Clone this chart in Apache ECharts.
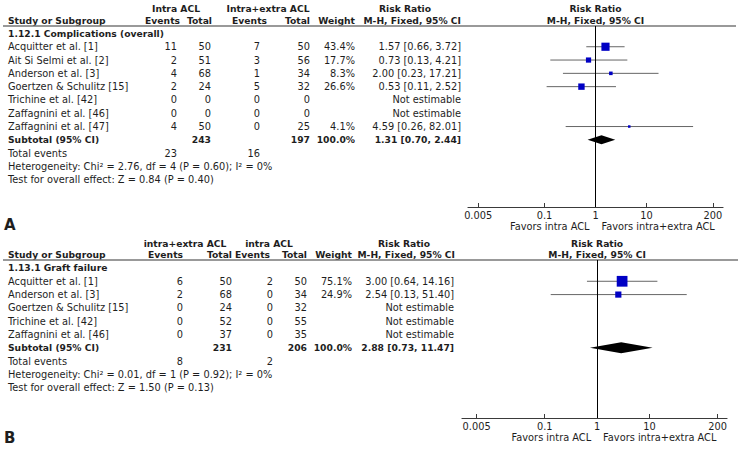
<!DOCTYPE html>
<html><head><meta charset="utf-8">
<script src="https://cdn.jsdelivr.net/npm/echarts@6/dist/echarts.min.js"></script>
<style>html,body{margin:0;padding:0;background:#fff}#c{width:738px;height:449px}</style>
</head><body><div id="c"></div>
<script>
// ---------- Panel A data: 1.12.1 Complications (overall) ----------
const sectionA = "1.12.1 Complications (overall)";
const groupsA = ["Intra ACL", "Intra+extra ACL"];
const studiesA = ["Acquitter et al. [1]", "Ait Si Selmi et al. [2]", "Anderson et al. [3]", "Goertzen & Schulitz [15]", "Trichine et al. [42]", "Zaffagnini et al. [46]", "Zaffagnini et al. [47]"];
const events1A = [11, 2, 4, 2, 0, 0, 4];
const total1A = [50, 51, 68, 24, 0, 0, 50];
const events2A = [7, 3, 1, 5, 0, 0, 0];
const total2A = [50, 56, 34, 32, 0, 0, 25];
const weightA = [43.4, 17.7, 8.3, 26.6, null, null, 4.1];
const rrA = [1.57, 0.73, 2.00, 0.53, null, null, 4.59];
const lowA = [0.66, 0.13, 0.23, 0.11, null, null, 0.26];
const highA = [3.72, 4.21, 17.21, 2.52, null, null, 82.01];
const subtotalA = [243, 197, 100.0, 1.31, 0.70, 2.44]; // total1, total2, weight, rr, low, high
const totalEventsA = [23, 16];
const hetA = "Heterogeneity: Chi\u00B2 = 2.76, df = 4 (P = 0.60); I\u00B2 = 0%";
const testA = "Test for overall effect: Z = 0.84 (P = 0.40)";

// ---------- Panel B data: 1.13.1 Graft failure ----------
const sectionB = "1.13.1 Graft failure";
const groupsB = ["intra+extra ACL", "intra ACL"];
const studiesB = ["Acquitter et al. [1]", "Anderson et al. [3]", "Goertzen & Schulitz [15]", "Trichine et al. [42]", "Zaffagnini et al. [46]"];
const events1B = [6, 2, 0, 0, 0];
const total1B = [50, 68, 24, 52, 37];
const events2B = [2, 0, 0, 0, 0];
const total2B = [50, 34, 32, 55, 35];
const weightB = [75.1, 24.9, null, null, null];
const rrB = [3.00, 2.54, null, null, null];
const lowB = [0.64, 0.13, null, null, null];
const highB = [14.16, 51.40, null, null, null];
const subtotalB = [231, 206, 100.0, 2.88, 0.73, 11.47];
const totalEventsB = [8, 2];
const hetB = "Heterogeneity: Chi\u00B2 = 0.01, df = 1 (P = 0.92); I\u00B2 = 0%";
const testB = "Test for overall effect: Z = 1.50 (P = 0.13)";

// ---------- shared axis ----------
const tickValues = [0.005, 0.1, 1, 10, 200];
const tickLabels = ["0.005", "0.1", "1", "10", "200"];
const favorsLeft = "Favors intra ACL";
const favorsRight = "Favors intra+extra ACL";
const letters = ["A", "B"];

// ---------- layout (positions/styles only) ----------
const FONT = '"DejaVu Sans", Verdana, sans-serif';
const TXT = '#1e1e1e';
const FS = 9.8, FB = 9.2;
const layouts = [
  { gridLeft: 468, gridRight: 15, top: 26, height: 181, yMin: -0.56, yMax: 13.05, xMin: -2.5, xMax: 2.5,
    textLeft: 8, col: [177, 211, 260, 310, 355, 461], hcol: [180, 212, 267, 310, 355, 461], grp: [176, 268, 405],
    h1: -1.85, h2: -0.98, ruleX2: 736, letterY: 225, dH: 4.5 },
  { gridLeft: 462, gridRight: 11, top: 260, height: 158, yMin: -0.6, yMax: 11.28, xMin: -2.58, xMax: 2.48,
    textLeft: 8, col: [183, 232, 273, 307, 352, 454], hcol: [183, 232, 270, 307, 352, 455], grp: [185, 269, 404],
    h1: -1.85, h2: -0.98, ruleX2: 738, letterY: 438, dH: 5.5 }
];
const panels = [
  { section: sectionA, groups: groupsA, studies: studiesA, e1: events1A, t1: total1A, e2: events2A, t2: total2A, w: weightA, rr: rrA, lo: lowA, hi: highA, sub: subtotalA, tot: totalEventsA, het: hetA, test: testA },
  { section: sectionB, groups: groupsB, studies: studiesB, e1: events1B, t1: total1B, e2: events2B, t2: total2B, w: weightB, rr: rrB, lo: lowB, hi: highB, sub: subtotalB, tot: totalEventsB, het: hetB, test: testB }
];

const L = Math.log10;
const tickLogs = tickValues.map(L);
function tickLabel(v) {
  let best = 0;
  tickLogs.forEach((t, i) => { if (Math.abs(t - v) < Math.abs(tickLogs[best] - v)) best = i; });
  return tickLabels[best];
}
const fmtCI = (r, l, h) => r.toFixed(2) + ' [' + l.toFixed(2) + ', ' + h.toFixed(2) + ']';

const chart = echarts.init(document.getElementById('c'), null, { renderer: 'svg' });

const grids = [], xAxes = [], yAxes = [], series = [];
panels.forEach((p, i) => {
  const lay = layouts[i];
  grids.push({ left: lay.gridLeft, right: lay.gridRight, top: lay.top, height: lay.height, containLabel: false });
  xAxes.push({
    gridIndex: i, type: 'value', min: lay.xMin, max: lay.xMax,
    axisLine: { show: true, onZero: false, lineStyle: { color: '#3a3a3a', width: 1.2 } },
    axisTick: { show: true, inside: true, length: 4, customValues: tickLogs, lineStyle: { color: '#3a3a3a', width: 1 } },
    axisLabel: { show: true, customValues: tickLogs, formatter: tickLabel, fontSize: FS, fontFamily: FONT, color: TXT, margin: 3 },
    splitLine: { show: false }
  });
  yAxes.push({ gridIndex: i, type: 'value', inverse: true, min: lay.yMin, max: lay.yMax, show: false });

  const whisk = [], sq = [];
  p.studies.forEach((s, k) => {
    if (p.rr[k] == null) return;
    whisk.push([L(p.lo[k]), L(p.hi[k]), k + 1]);
    sq.push([L(p.rr[k]), k + 1, p.w[k]]);
  });
  series.push({
    type: 'custom', xAxisIndex: i, yAxisIndex: i, clip: false, silent: true,
    encode: { x: [0, 1], y: 2 },
    renderItem: (params, api) => {
      const a = api.coord([api.value(0), api.value(2)]);
      const b = api.coord([api.value(1), api.value(2)]);
      return { type: 'line', shape: { x1: a[0], y1: a[1], x2: b[0], y2: b[1] }, style: { stroke: '#666', lineWidth: 1 } };
    },
    data: whisk,
    markLine: { silent: true, symbol: ['none', 'none'], label: { show: false }, animation: false,
      lineStyle: { color: '#000', width: 1, type: 'solid' }, data: [{ xAxis: 0 }] }
  });
  series.push({
    type: 'scatter', xAxisIndex: i, yAxisIndex: i, symbol: 'rect', silent: true,
    symbolSize: v => Math.max(2.5, Math.sqrt(v[2]) * 1.24),
    itemStyle: { color: '#0000c4', opacity: 1 },
    data: sq
  });
  const n = p.studies.length;
  const sub = p.sub;
  series.push({
    type: 'custom', xAxisIndex: i, yAxisIndex: i, clip: false, silent: true,
    encode: { x: [0, 1, 2], y: 3 },
    renderItem: (params, api) => {
      const y = api.value(3);
      const l = api.coord([api.value(0), y]);
      const c = api.coord([api.value(1), y]);
      const r = api.coord([api.value(2), y]);
      const h = lay.dH;
      return { type: 'polygon', shape: { points: [[l[0], l[1]], [c[0], c[1] - h], [r[0], r[1]], [c[0], c[1] + h]] }, style: { fill: '#000' } };
    },
    data: [[L(sub[4]), L(sub[3]), L(sub[5]), n + 1]]
  });
});

chart.setOption({
  animation: false,
  backgroundColor: '#fff',
  grid: grids, xAxis: xAxes, yAxis: yAxes, series: series
});

// ---------- table text, positioned through the axes' own mapping ----------
const gfx = [];
function txt(x, y, text, align, bold, size) {
  gfx.push({ type: 'text', x: x, y: y, silent: true,
    style: { text: String(text), align: align || 'left', verticalAlign: 'middle',
      fontFamily: FONT, fontSize: size || FS, fontWeight: bold ? 'bold' : 'normal', fill: TXT } });
}
panels.forEach((p, i) => {
  const lay = layouts[i];
  const Y = r => chart.convertToPixel({ yAxisIndex: i }, r);
  const zeroX = chart.convertToPixel({ xAxisIndex: i }, 0);
  const x0 = lay.textLeft, c = lay.col, hc = lay.hcol;
  // headers
  const y1 = Y(lay.h1), y2 = Y(lay.h2);
  txt(lay.grp[0], y1, p.groups[0], 'center', true, FB);
  txt(lay.grp[1], y1, p.groups[1], 'center', true, FB);
  txt(lay.grp[2], y1, 'Risk Ratio', 'center', true, FB);
  txt(zeroX, y1, 'Risk Ratio', 'center', true, FB);
  txt(x0, y2, 'Study or Subgroup', 'left', true, FB);
  txt(hc[0], y2, 'Events', 'right', true, FB);
  txt(hc[1], y2, 'Total', 'right', true, FB);
  txt(hc[2], y2, 'Events', 'right', true, FB);
  txt(hc[3], y2, 'Total', 'right', true, FB);
  txt(hc[4], y2, 'Weight', 'right', true, FB);
  txt(hc[5], y2, 'M-H, Fixed, 95% CI', 'right', true, FB);
  txt(zeroX, y2, 'M-H, Fixed, 95% CI', 'center', true, FB);
  gfx.push({ type: 'line', silent: true, shape: { x1: 3, y1: lay.top, x2: lay.ruleX2, y2: lay.top }, style: { stroke: '#777', lineWidth: 1.5 } });
  // section
  txt(x0, Y(0), p.section, 'left', true, FB);
  // studies
  p.studies.forEach((s, k) => {
    const y = Y(k + 1);
    txt(x0, y, s, 'left');
    txt(c[0], y, p.e1[k], 'right');
    txt(c[1], y, p.t1[k], 'right');
    txt(c[2], y, p.e2[k], 'right');
    txt(c[3], y, p.t2[k], 'right');
    if (p.rr[k] != null) {
      txt(c[4], y, p.w[k].toFixed(1) + '%', 'right');
      txt(c[5], y, fmtCI(p.rr[k], p.lo[k], p.hi[k]), 'right');
    } else {
      txt(c[5], y, 'Not estimable', 'right');
    }
  });
  const n = p.studies.length;
  const ys = Y(n + 1);
  txt(x0, ys, 'Subtotal (95% CI)', 'left', true, FB);
  txt(c[1], ys, p.sub[0], 'right', true, FB);
  txt(c[3], ys, p.sub[1], 'right', true, FB);
  txt(c[4], ys, p.sub[2].toFixed(1) + '%', 'right', true, FB);
  txt(c[5], ys, fmtCI(p.sub[3], p.sub[4], p.sub[5]), 'right', true, FB);
  const yt = Y(n + 2);
  txt(x0, yt, 'Total events', 'left');
  txt(c[0], yt, p.tot[0], 'right');
  txt(c[2], yt, p.tot[1], 'right');
  txt(x0, Y(n + 3), p.het, 'left');
  txt(x0, Y(n + 4), p.test, 'left');
  // favours labels under axis
  const axisY = lay.top + lay.height;
  txt(zeroX - 6, axisY + 19, favorsLeft, 'right');
  txt(zeroX + 6, axisY + 19, favorsRight, 'left');
  // panel letter
  txt(4, lay.letterY, letters[i], 'left', true, 15);
});
chart.setOption({ graphic: { elements: gfx } });
</script>
</body></html>
